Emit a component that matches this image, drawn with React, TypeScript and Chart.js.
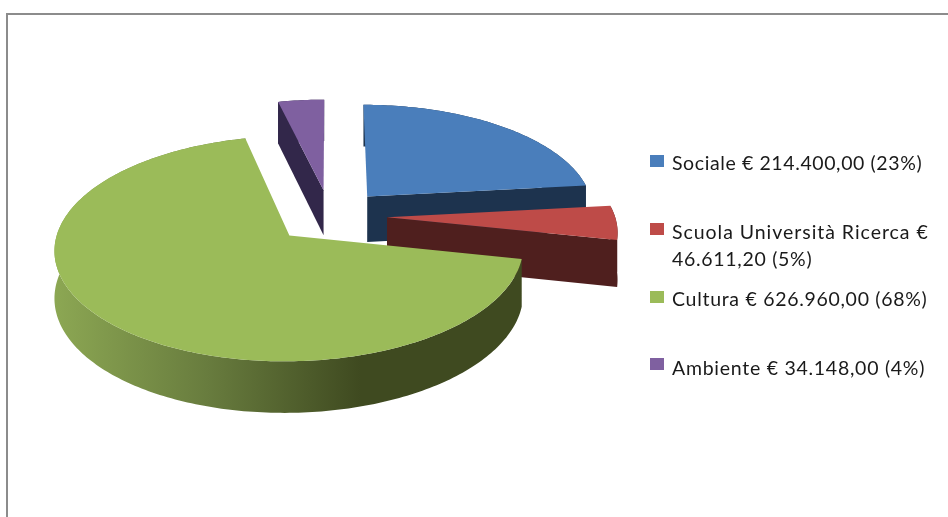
import React, { useEffect, useRef } from "react";
import { Chart, registerables } from "chart.js";

Chart.register(...registerables);

const categories = ["Sociale", "Scuola Università Ricerca", "Cultura", "Ambiente"];
const amounts = [214400.0, 46611.2, 626960.0, 34148.0];
const legendLines = [
  ["Sociale € 214.400,00 (23%)"],
  ["Scuola Università Ricerca €", "46.611,20 (5%)"],
  ["Cultura € 626.960,00 (68%)"],
  ["Ambiente € 34.148,00 (4%)"],
];
const topColors = ["#4A7EBB", "#BE4B48", "#9BBB59", "#7F60A0"];
const wallColors = ["#1D334E", "#4F1F1E", "#3F4A20", "#32274A"];
const explode = [48, 48, 48, 48];
const legendBoxY = [155, 223, 291, 358];
const legendBaseline = [[170], [238.5, 266], [306], [375]];
const legendTracking = [[0.6], [0.96, 0.7], [0.7], [0.73]];
const paintOrder = [3, 0, 1, 2];

const SX = 1.187;
const SY = 0.555;
const DEPTH = 0.24;
const PERSP = 0.115;
const DEPTH_PERSP = 0.09;

const pie3d = {
  id: "pie3d",
  beforeDatasetsDraw(chart: any) {
    const ctx: CanvasRenderingContext2D = chart.ctx;
    const arcs = chart.getDatasetMeta(0).data;
    for (const i of paintOrder) {
      const arc = arcs[i];
      const R = arc.outerRadius;
      const t0 = arc.startAngle + Math.PI / 2;
      const t1 = arc.endAngle + Math.PI / 2;
      const mid = (t0 + t1) / 2;
      const d = (arc.options.offset || 0) / R;
      const ox = d * Math.sin(mid);
      const oz = d * Math.cos(mid);
      const pt = (X: number, Z: number, down: number) => {
        const s = 1 / (1 + PERSP * Z);
        const h = 1 / (1 + DEPTH_PERSP * Z);
        return [arc.x + R * SX * X * s, arc.y - R * SY * Z * s + R * DEPTH * down * h];
      };
      const rim = (t: number, down: number) => pt(ox + Math.sin(t), oz + Math.cos(t), down);
      const apex = (down: number) => pt(ox, oz, down);
      const poly = (pts: number[][], fill: any) => {
        ctx.beginPath();
        pts.forEach((p, k) => (k ? ctx.lineTo(p[0], p[1]) : ctx.moveTo(p[0], p[1])));
        ctx.closePath();
        ctx.fillStyle = fill;
        ctx.fill();
      };
      const angles: number[] = [];
      const n = Math.max(4, Math.ceil(((t1 - t0) * 180) / Math.PI));
      for (let k = 0; k <= n; k++) angles.push(t0 + ((t1 - t0) * k) / n);

      // outer wall, shaded along x the way the reference's lit rim is
      const grad = ctx.createLinearGradient(chart.width * 0.058, 0, chart.width * 0.38, 0);
      if (i === 2) {
        grad.addColorStop(0, "#8CA753");
        grad.addColorStop(0.5, "#687C3E");
        grad.addColorStop(1, "#3F4A20");
      }
      const wallFill = i === 2 ? grad : wallColors[i];
      const top = angles.map((t) => rim(t, 0));
      const bottom = angles.map((t) => rim(t, 1)).reverse();
      poly([...top, ...bottom], wallFill);
      // cut faces turned towards the viewer
      if (Math.sin(t0) < -1e-6) poly([apex(0), rim(t0, 0), rim(t0, 1), apex(1)], wallColors[i]);
      if (Math.sin(t1) > 1e-6) poly([apex(0), rim(t1, 0), rim(t1, 1), apex(1)], wallColors[i]);
      // top surface
      poly([apex(0), ...top], topColors[i]);
    }
    return false;
  },
  afterDraw(chart: any) {
    const ctx: any = chart.ctx;
    ctx.save();
    ctx.font = '19.5px Lato, "Open Sans", sans-serif';
    ctx.textBaseline = "alphabetic";
    ctx.textAlign = "left";
    legendLines.forEach((lines, i) => {
      ctx.fillStyle = chart.data.datasets[0].backgroundColor[i];
      ctx.fillRect(650, legendBoxY[i], 14, 12);
      ctx.fillStyle = "#1A1A1A";
      lines.forEach((line, j) => {
        ctx.letterSpacing = legendTracking[i][j] + "px";
        ctx.fillText(line, 672, legendBaseline[i][j]);
      });
    });
    ctx.restore();
  },
};

export default function App() {
  const ref = useRef<HTMLCanvasElement>(null);
  useEffect(() => {
    const chart = new Chart(ref.current!, {
      type: "pie",
      data: {
        labels: categories,
        datasets: [
          {
            data: amounts,
            backgroundColor: topColors,
            borderWidth: 0,
            offset: explode,
          },
        ],
      },
      options: {
        animation: false,
        responsive: false,
        devicePixelRatio: 1,
        layout: { padding: { left: 0, top: 0, right: 288, bottom: 85 } },
        plugins: { legend: { display: false }, tooltip: { enabled: false } },
      },
      plugins: [pie3d],
    });
    return () => chart.destroy();
  }, []);
  return (
    <div style={{ position: "fixed", left: 0, top: 0, width: 948, height: 517, overflow: "hidden", background: "#fff" }}>
      <div
        style={{
          position: "absolute",
          left: 6,
          top: 13,
          width: 1000,
          height: 600,
          borderLeft: "2px solid #8C8C8C",
          borderTop: "2px solid #8C8C8C",
        }}
      />
      <canvas
        ref={ref}
        width={948}
        height={517}
        style={{ position: "absolute", left: 0, top: 0, width: 948, height: 517, filter: "blur(0.4px)" }}
      />
    </div>
  );
}
